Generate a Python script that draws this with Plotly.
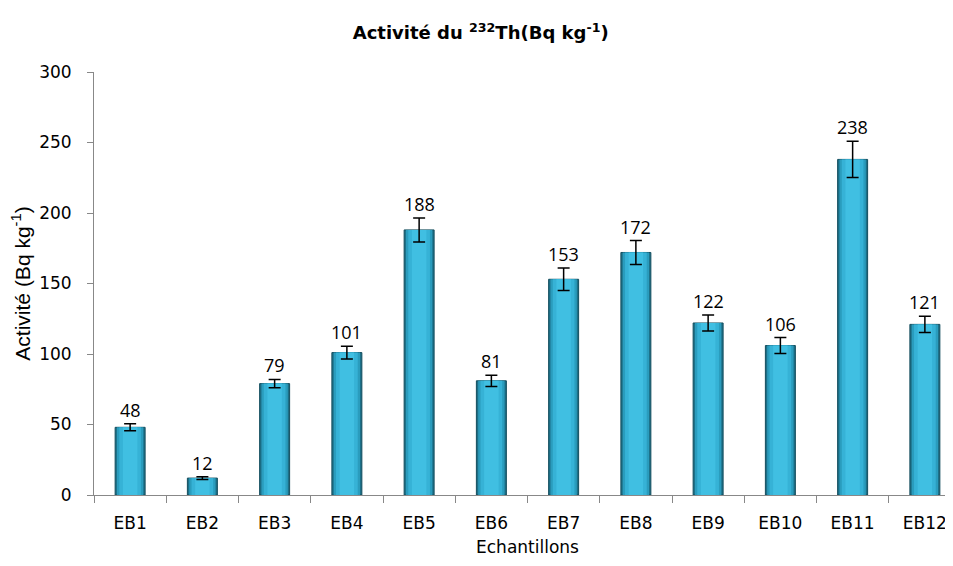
import plotly.graph_objects as go

categories = ["EB1", "EB2", "EB3", "EB4", "EB5", "EB6", "EB7", "EB8", "EB9", "EB10", "EB11", "EB12"]
values = [48, 12, 79, 101, 188, 81, 153, 172, 122, 106, 238, 121]
errors = [2.5, 1, 3, 4.5, 8.5, 4, 8, 8.5, 5.7, 5.7, 12.8, 5.7]
y_ticks = [0, 50, 100, 150, 200, 250, 300]

# layered bars to mimic the horizontal shading of the original bars
layers = [
    (0.415, "#1C6F87", "#144E5E", 1),
    (0.365, "#2A9CBD", "#2A9CBD", 0),
    (0.30, "#36B2D6", "#36B2D6", 0),
    (0.20, "#40BFE2", "#40BFE2", 0),
]

fig = go.Figure()
for i, (w, col, lcol, lw) in enumerate(layers):
    last = i == len(layers) - 1
    fig.add_trace(go.Bar(
        x=categories, y=values,
        marker=dict(color=col, line=dict(color=lcol, width=lw)),
        width=w,
        error_y=dict(type="data", array=errors, visible=last, color="black", thickness=1.5, width=6),
        hoverinfo="skip",
    ))

for c, v, e in zip(categories, values, errors):
    fig.add_annotation(x=c, y=v + e, text=str(v), showarrow=False, yanchor="bottom", yshift=0,
                       font=dict(family="Open Sans, Liberation Sans, sans-serif", size=18, color="black"))

fig.update_layout(
    width=953, height=566,
    margin=dict(l=86, r=0, t=64, b=79),
    plot_bgcolor="white", paper_bgcolor="white",
    showlegend=False, barmode="overlay",
    title=dict(text="<b>Activité du <sup>232</sup>Th(Bq kg<sup>-1</sup>)</b>", x=0.496, xanchor="center",
               y=0.956, yanchor="middle",
               font=dict(family="DejaVu Sans, Verdana, sans-serif", size=18, color="black")),
    font=dict(family="DejaVu Sans, Verdana, sans-serif", size=14, color="black"),
)
fig.update_xaxes(
    showline=True, linecolor="#888888", linewidth=1, ticks="outside", tickcolor="#888888", ticklen=7,
    tickson="boundaries", showgrid=False, ticklabelstandoff=13,
    tickfont=dict(family="DejaVu Sans, Verdana, sans-serif", size=17),
    title=dict(text="Echantillons", font=dict(family="DejaVu Sans, Verdana, sans-serif", size=17), standoff=8),
)
fig.update_yaxes(
    range=[0, 300], tickvals=y_ticks, showline=True, linecolor="#888888", linewidth=1,
    ticks="outside", tickcolor="#888888", ticklen=6, showgrid=False, zeroline=False,
    ticklabelstandoff=12,
    tickfont=dict(family="DejaVu Sans, Verdana, sans-serif", size=17),
    title=dict(text="Activité (Bq kg<sup>-1</sup>)", font=dict(family="Liberation Sans, Arial, sans-serif", size=21), standoff=5),
)

fig.write_html("out.html")
